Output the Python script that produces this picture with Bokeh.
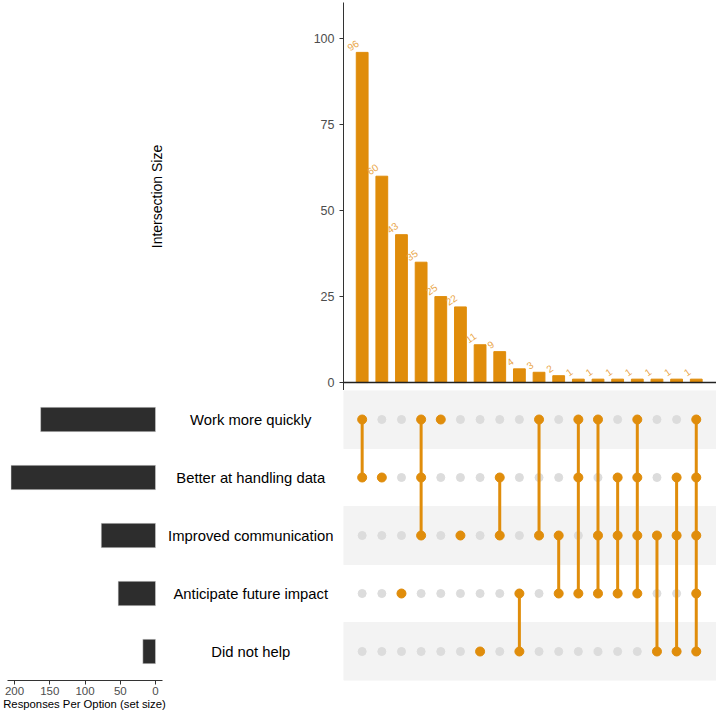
import math
from bokeh.plotting import figure
from bokeh.layouts import column, row
from bokeh.models import Range1d, FixedTicker, Span
from bokeh.core.properties import value
from bokeh.embed import file_html
from bokeh.resources import INLINE

# ---------------- data ----------------
set_names = ["Work more quickly", "Better at handling data", "Improved communication",
             "Anticipate future impact", "Did not help"]
set_codes = ["W", "B", "I", "A", "D"]
set_sizes = [163, 205, 77, 53, 18]

intersection_sizes = [96, 60, 43, 35, 25, 22, 11, 9, 4, 3, 2, 1, 1, 1, 1, 1, 1, 1]
intersection_members = ["WB", "B", "A", "WBI", "W", "I", "D", "BI", "AD", "WI", "IA",
                        "WBA", "WIA", "BIA", "WBIA", "ID", "BID", "WBIAD"]
y_ticks = [0, 25, 50, 75, 100]
set_ticks = [0, 50, 100, 150, 200]

# ---------------- styles ----------------
FONT = "Liberation Sans"
ORANGE = "#E08D0B"
LABEL_ORANGE = "#E9A445"
GREY_DOT = "#DCDCDC"
BAND = "#F3F3F3"
DARK = "#2D2D2D"

n_sets = len(set_codes)
xs = list(range(1, len(intersection_sizes) + 1))
row_y = {c: n_sets - i for i, c in enumerate(set_codes)}
set_y = [row_y[c] for c in set_codes]

# ---------------- top: intersection bars ----------------
xr = Range1d(0.05, 19.03)
top = figure(frame_width=373, frame_height=388, min_border_left=343, min_border_right=0,
             min_border_top=2, min_border_bottom=0, x_range=xr, y_range=Range1d(-2.3, 110.5),
             output_backend="svg", toolbar_location=None)
top.vbar(x=xs, top=intersection_sizes, width=0.6, color=ORANGE)
top.text(x=xs, y=intersection_sizes, text=[str(v) for v in intersection_sizes],
         angle=math.radians(35), text_align="center", text_baseline="bottom",
         x_offset=-7, y_offset=-4, text_font_size="10px", text_color=LABEL_ORANGE,
         text_font=value(FONT))
top.add_layout(Span(location=0, dimension="width", line_color="#222222", line_width=1.5))
top.xaxis.visible = False
top.xgrid.visible = False
top.ygrid.visible = False
top.outline_line_color = None
ya = top.yaxis[0]
ya.ticker = FixedTicker(ticks=y_ticks)
ya.axis_label = "Intersection Size"
ya.axis_label_standoff = 146
ya.axis_label_text_font = FONT
ya.axis_label_text_font_style = "normal"
ya.axis_label_text_font_size = "14px"
ya.axis_label_text_color = "#000000"
ya.major_label_text_font = FONT
ya.major_label_text_font_size = "12.5px"
ya.major_label_text_color = "#4D4D4D"
ya.major_tick_out = 4
ya.major_tick_in = 0
ya.minor_tick_line_color = None
ya.axis_line_color = "#333333"
ya.major_tick_line_color = "#333333"

# ---------------- bottom-left: set sizes ----------------
yr = Range1d(0.5, n_sets + 0.5)
left = figure(frame_width=168, frame_height=290, min_border_left=0, min_border_right=0,
              min_border_top=0, x_range=Range1d(219.9, -18.4), y_range=yr,
              output_backend="svg", toolbar_location=None)
left.hbar(y=set_y, left=0, right=set_sizes, height=0.42, fill_color=DARK,
          line_color="#DDDDDD", line_width=0.5)
left.yaxis.visible = False
left.xgrid.visible = False
left.ygrid.visible = False
left.outline_line_color = None
xa = left.xaxis[0]
xa.ticker = FixedTicker(ticks=set_ticks)
xa.bounds = (-9.6, 210)
xa.axis_label = "Responses Per Option (set size)"
xa.axis_label_standoff = 0
xa.axis_label_text_font = FONT
xa.axis_label_text_font_style = "normal"
xa.axis_label_text_font_size = "11.3px"
xa.axis_label_text_color = "#000000"
xa.major_label_text_font = FONT
xa.major_label_text_font_size = "11.5px"
xa.major_label_text_color = "#4D4D4D"
xa.major_label_standoff = 2
xa.major_tick_out = 4
xa.major_tick_in = 0
xa.minor_tick_line_color = None
xa.axis_line_color = "#333333"
xa.major_tick_line_color = "#333333"

# ---------------- bottom-middle: set names ----------------
lab = figure(frame_width=175, frame_height=290, min_border=0, min_border_bottom=29,
             x_range=Range1d(0, 1), y_range=yr, output_backend="svg", toolbar_location=None)
lab.text(x=[0.47] * n_sets, y=set_y, text=set_names, text_align="center",
         text_baseline="middle", text_font_size="14.8px", text_color="#000000",
         text_font=value(FONT))
lab.axis.visible = False
lab.grid.visible = False
lab.outline_line_color = None

# ---------------- bottom-right: matrix ----------------
mat = figure(frame_width=373, frame_height=290, min_border=0, min_border_bottom=29,
             x_range=xr, y_range=yr, output_backend="svg", toolbar_location=None)
band_y = [row_y[c] for i, c in enumerate(set_codes) if i % 2 == 0]
mat.hbar(y=band_y, left=xr.start, right=xr.end + 1, height=1, color=BAND)
gx, gy = [], []
for x in xs:
    for c in set_codes:
        gx.append(x)
        gy.append(row_y[c])
mat.scatter(gx, gy, size=8, color=GREY_DOT)
sx0, sy0, sy1, ox, oy = [], [], [], [], []
for x, mem in zip(xs, intersection_members):
    ys = [row_y[c] for c in mem]
    if len(ys) > 1:
        sx0.append(x)
        sy0.append(min(ys))
        sy1.append(max(ys))
    for yv in ys:
        ox.append(x)
        oy.append(yv)
mat.segment(x0=sx0, y0=sy0, x1=sx0, y1=sy1, line_color=ORANGE, line_width=3)
mat.scatter(ox, oy, size=9, color=ORANGE)
mat.axis.visible = False
mat.grid.visible = False
mat.outline_line_color = None

layout = column(top, row(left, lab, mat, spacing=0), spacing=0)

with open("out.html", "w") as f:
    f.write(file_html(layout, INLINE))
